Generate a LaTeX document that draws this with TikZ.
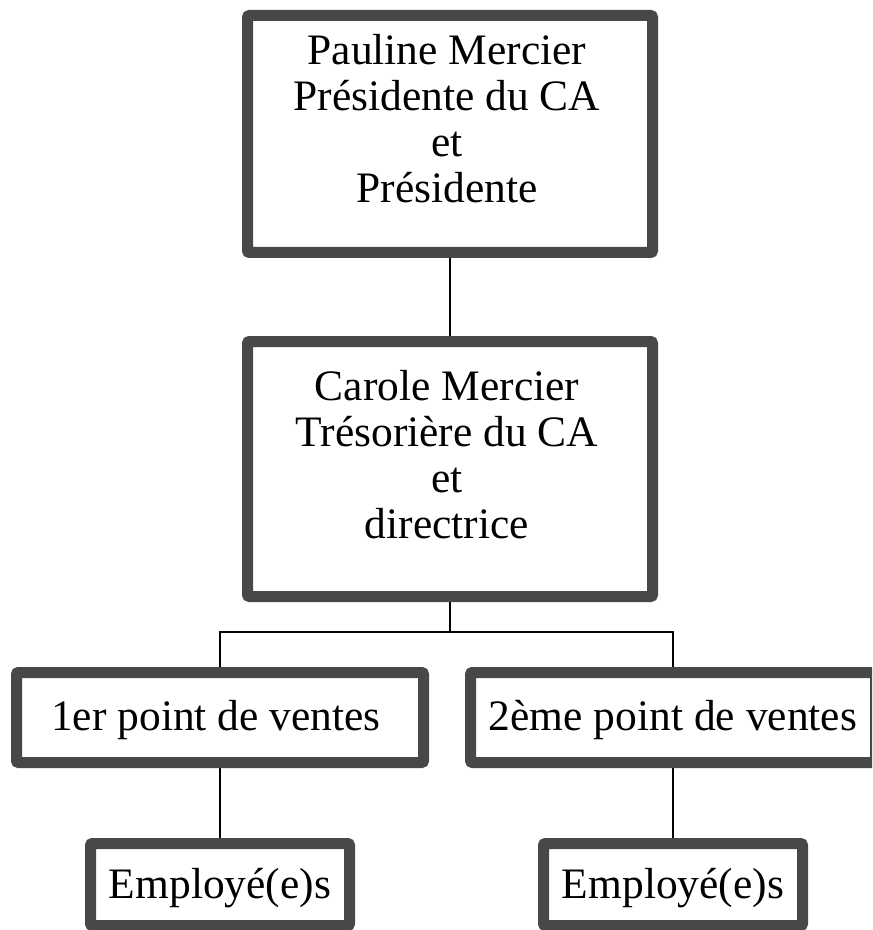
\documentclass[tikz,border=0pt]{standalone}
\usepackage{fontspec}
\setmainfont{Liberation Serif}
\usetikzlibrary{backgrounds}
\definecolor{frameGray}{RGB}{72,72,72}
\tikzset{
  orgbox/.style={draw=frameGray, line width=8.25pt, rounded corners=1.5pt,
                 inner sep=0pt, fill=white},
  boxtext/.style={anchor=base, inner sep=0pt,
                  font=\fontsize{32.6}{34.5}\selectfont},
  link/.style={line width=1.6pt, draw=black},
}
\begin{document}
\begin{tikzpicture}[x=0.75pt,y=-0.75pt]
\clip (0,0) rectangle (872,930);

% frames (outer edges given in px, stroke centred on the node border)
\node[orgbox, minimum width=303.75pt, minimum height=177.75pt] (b1) at (450,134) {};
\node[orgbox, minimum width=303.75pt, minimum height=191.25pt] (b2) at (450,469) {};
\node[orgbox, minimum width=305.25pt, minimum height=67.5pt]   (b3) at (220,717.5) {};
\node[orgbox, minimum width=303.75pt, minimum height=67.5pt]   (b4) at (673,717.5) {};
\node[orgbox, minimum width=194.25pt, minimum height=61.5pt]   (b5) at (220,884.5) {};
\node[orgbox, minimum width=194.25pt, minimum height=61.5pt]   (b6) at (673,884.5) {};

% labels
\node[boxtext] (t1) at (447,65)
  {\begin{tabular}[t]{@{}c@{}}Pauline Mercier\\Présidente du CA\\et\\Présidente\end{tabular}};
\node[boxtext] (t2) at (447,400)
  {\begin{tabular}[t]{@{}c@{}}Carole Mercier\\Trésorière du CA\\et\\directrice\end{tabular}};
\node[boxtext] (t3) at (216,730) {1er point de ventes};
\node[boxtext] (t4) at (673,730) {2ème point de ventes};
\node[boxtext] (t5) at (220,898) {Employé(e)s};
\node[boxtext] (t6) at (673,898) {Employé(e)s};

% connectors
\coordinate (fork) at (450,632);
\begin{scope}[on background layer]
  \draw[link] (b1.south) -- (b2.north);
  \draw[link] (b2.south) -- (fork);
  \draw[link] (b3.north) |- (fork) -| (b4.north);
  \draw[link] (b3.south) -- (b5.north);
  \draw[link] (b4.south) -- (b6.north);
\end{scope}
\end{tikzpicture}
\end{document}
